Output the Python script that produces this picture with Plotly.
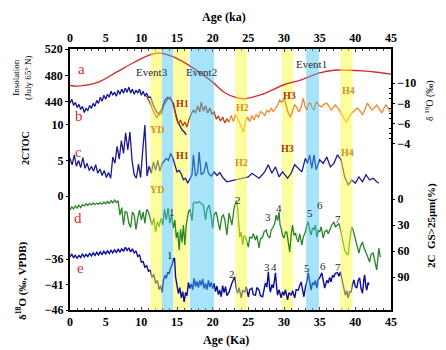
import plotly.graph_objects as go

# ---------------- data ----------------
# a: insolation (W/m2, July 65N)
ins_age = [0, 1, 2, 4, 6.5, 9, 11.2, 12.4, 14.5, 17.3, 20, 21.7, 23.5, 24.5, 26.8, 30, 32.3, 35, 37, 39, 41, 43, 45]
ins_val = [465, 464, 465, 470, 485, 500, 511, 514, 508, 491, 470, 454, 446, 445, 451, 466, 473, 484, 488, 488, 487, 485, 482]

# b: speleothem d18O (per mil), three records
b1_age = [0.00, 0.25, 0.50, 0.75, 1.00, 1.25, 1.50, 1.75, 2.00, 2.25, 2.50, 2.75, 3.00, 3.25, 3.50, 3.75,
          4.00, 4.25, 4.50, 4.75, 5.00, 5.25, 5.50, 5.75, 6.00, 6.25, 6.50, 6.75, 7.00, 7.25, 7.50, 7.75,
          8.00, 8.25, 8.50, 8.75, 9.00, 9.25, 9.50, 9.75, 10.00, 10.25, 10.50, 10.75, 11.00, 11.3, 11.7,
          12.1, 12.5, 12.9, 13.3, 13.7, 14.1, 14.5, 14.8, 15.1, 15.4, 15.7, 16.0, 16.3]
b1_val = [-8.0, -8.4, -7.8, -8.1, -7.6, -7.9, -7.4, -7.7, -7.1, -7.5, -7.3, -7.8, -7.5, -8.0, -7.7, -8.3,
          -8.0, -8.6, -8.2, -8.8, -8.4, -8.9, -8.6, -9.2, -8.8, -9.1, -8.7, -9.3, -8.9, -9.4, -9.0, -9.5,
          -9.1, -9.6, -9.0, -9.4, -8.9, -9.3, -9.0, -9.4, -8.8, -9.2, -8.7, -9.0, -8.6, -8.6, -7.8,
          -7.2, -6.9, -7.5, -8.3, -8.6, -8.4, -8.0, -7.0, -6.2, -5.8, -5.4, -5.2, -4.9]
b2_age = [10.7, 11.0, 11.3, 11.6, 11.9, 12.2, 12.5, 12.8, 13.1, 13.4, 13.7, 14.0, 14.3, 14.6, 14.9, 15.2,
          15.5, 15.8, 16.1, 16.4, 16.7, 17.0, 17.3, 17.6, 17.9, 18.2, 18.4, 18.7, 19.0, 19.3, 19.6, 19.9,
          20.2, 20.5, 20.8, 21.1, 21.4, 21.7, 22.0, 22.3]
b2_val = [-8.72, -8.33, -7.93, -7.34, -6.95, -6.56, -7.15, -6.95, -7.74, -8.13, -8.43, -8.62, -8.23, -7.54,
          -6.56, -5.97, -6.36, -5.77, -6.16, -5.67, -6.46, -6.95, -7.34, -7.05, -7.74, -7.15, -8.13, -7.25,
          -7.74, -7.05, -7.54, -6.95, -7.15, -6.46, -6.75, -6.26, -6.65, -6.06, -6.46, -6.16]
b3_age = [22.3, 22.6, 22.9, 23.2, 23.5, 23.8, 24.1, 24.3, 24.6, 24.9, 25.2, 25.5, 25.8, 26.1, 26.4, 26.7,
          27.0, 27.3, 27.6, 27.9, 28.2, 28.5, 28.8, 29.1, 29.4, 29.7, 30.0, 30.3, 30.6, 30.9, 31.2, 31.5,
          31.8, 32.1, 32.4, 32.7, 33.0, 33.2, 33.5, 33.7, 34.0, 34.2, 34.4, 34.6, 34.9, 35.3, 35.6, 36.0,
          36.3, 36.6, 36.9, 37.2, 37.6, 38.0, 38.3, 38.7, 39.1, 39.5, 39.9, 40.3, 40.7, 41.0, 41.4, 41.7,
          42.0, 42.3, 42.7, 43.0, 43.4, 43.7, 44.0, 44.3, 44.7, 45.0]
b3_val = [-6.16, -6.8, -6.2, -6.9, -6.56, -6.0, -5.5, -5.18, -6.2, -6.65, -6.2, -6.8, -6.36, -6.9, -6.6, -7.2,
          -7.05, -6.8, -7.3, -7.15, -7.5, -7.2, -7.54, -7.8, -8.33, -8.1, -8.52, -7.8, -7.05, -6.65, -7.3, -7.84,
          -7.6, -7.15, -7.6, -8.52, -7.6, -7.34, -8.0, -8.03, -7.5, -7.34, -7.9, -8.13, -7.8, -7.64, -7.9, -8.03,
          -7.7, -7.34, -7.6, -7.84, -7.5, -7.05, -6.6, -6.16, -6.6, -7.05, -7.3, -7.54, -7.2, -6.85, -7.5, -8.03,
          -7.7, -7.34, -7.6, -7.84, -7.4, -7.05, -7.5, -7.84, -7.4, -7.05]

# c: 2CTOC
c_age = [0, 0.3, 0.6, 0.9, 1.2, 1.5, 1.8, 2.1, 2.4, 2.7, 3.0, 3.3, 3.6, 3.9, 4.2, 4.5, 4.8, 5.1, 5.4, 5.7,
         6.0, 6.3, 6.6, 6.9, 7.2, 7.5, 7.8, 8.1, 8.4, 8.7, 9.0, 9.3, 9.6, 9.9, 10.2, 10.5, 10.8, 11.1, 11.4,
         11.7, 12.0, 12.3, 12.6, 12.9, 13.2, 13.5, 13.8, 14.1, 14.4, 14.7, 15.0, 15.3, 15.6, 15.9, 16.2, 16.5,
         16.8, 17.1, 17.3, 17.6, 17.9, 18.1, 18.4, 18.8, 19.1, 19.4, 19.8, 20.2, 20.6, 21.0, 21.5, 22.0, 23.0,
         24.0, 25.0, 25.5, 26.5, 27.3, 27.8, 28.3, 28.8, 29.3, 29.8, 30.5, 31.0, 31.5, 32.0, 32.5, 33.0, 33.3,
         33.6, 33.9, 34.2, 34.5, 35.0, 35.5, 36.0, 36.5, 37.0, 37.5, 38.0, 38.5, 39.0, 39.5, 40.0, 40.5, 41.0,
         41.5, 42.0, 42.5, 43.0, 43.3]
c_val = [5.3, 4.4, 5.8, 4.2, 5.0, 4.0, 5.4, 3.9, 4.6, 3.6, 4.2, 3.5, 4.4, 3.2, 3.8, 2.9, 3.6, 2.6, 3.3, 2.5,
         5.5, 4.6, 7.0, 5.2, 7.8, 6.0, 8.9, 6.5, 9.0, 5.0, 3.0, 2.5, 4.5, 2.6, 6.5, 10.0, 2.8, 4.2, 3.2,
         4.8, 3.6, 5.0, 3.5, 4.6, 4.9, 5.3, 5.0, 6.0, 5.4, 4.3, 3.4, 3.6, 3.1, 2.3, 2.5, 1.8,
         2.4, 3.0, 5.8, 2.8, 3.3, 6.2, 3.0, 3.4, 4.8, 3.2, 2.8, 3.4, 2.9, 3.3, 2.5, 2.0, 2.25,
         2.5, 2.7, 3.2, 2.5, 3.4, 4.4, 3.2, 4.1, 2.7, 3.4, 2.5, 3.2, 4.4, 3.9, 3.4, 5.3, 4.6,
         5.8, 3.9, 5.8, 3.7, 5.1, 4.6, 5.5, 4.1, 4.6, 5.8, 5.1, 2.7, 1.55, 2.25, 1.8, 2.7, 2.0,
         3.0, 2.25, 2.5, 2.0, 1.8]

# d: 2C GS>25um (%)
d_age = [0.00, 0.25, 0.50, 0.75, 1.00, 1.25, 1.50, 1.75, 2.00, 2.25, 2.50, 2.75, 3.00, 3.25, 3.50, 3.75, 4.00,
         4.25, 4.50, 4.75, 5.00, 5.25, 5.50, 5.75, 6.00, 6.25, 6.50, 6.75, 7.00, 7.25, 7.50, 7.75, 8.00, 8.25,
         8.50, 8.75, 9.00, 9.25, 9.50, 9.75, 10.00, 10.25, 10.50, 10.75, 11.00, 11.25, 11.50, 11.75, 12.00,
         12.25, 12.50, 12.75, 13.00, 13.25, 13.50, 13.75, 14.00, 14.25, 14.50, 14.70, 14.90, 15.10, 15.30,
         15.50, 15.70, 15.90, 16.10, 16.30, 16.60, 16.80, 17.10, 17.30, 17.50, 17.80, 18.10, 18.40, 18.70,
         19.00, 19.20, 19.50, 19.80, 20.00, 20.20, 20.50, 20.80, 21.00, 21.30, 21.50, 21.70, 22.00, 22.30,
         22.70, 23.00, 23.30, 23.50, 23.80, 24.00, 24.20, 24.40, 24.60, 24.80, 25.00, 25.20, 25.50, 25.70,
         26.00, 26.20, 26.50, 26.70, 27.00, 27.20, 27.50, 27.70, 28.00, 28.20, 28.50, 28.70, 28.90, 29.10,
         29.30, 29.45, 29.60, 29.80, 30.00, 30.20, 30.40, 30.60, 30.80, 31.00, 31.20, 31.40, 31.60, 31.80,
         32.00, 32.20, 32.50, 32.70, 33.00, 33.20, 33.40, 33.60, 33.80, 34.00, 34.20, 34.40, 34.60, 34.80,
         35.00, 35.20, 35.50, 35.70, 36.00, 36.20, 36.50, 36.70, 37.00, 37.20, 37.50, 37.70, 38.00, 38.20,
         38.50, 38.70, 39.00, 39.20, 39.50, 39.70, 40.00, 40.20, 40.50, 40.70, 41.00, 41.20, 41.50, 41.70,
         42.00, 42.20, 42.50, 42.70, 43.00, 43.20, 43.30, 43.50]
d_val = [12.7, 9.0, 11.5, 8.0, 10.5, 7.0, 9.8, 6.5, 8.0, 5.5, 7.5, 5.0, 6.8, 4.6, 6.5, 5.0, 6.0,
         4.2, 6.2, 3.5, 5.5, 3.0, 5.2, 1.8, 4.5, 1.2, 4.0, 2.0, 18.5, 10.0, 30.0, 14.0, 16.0, 28.0,
         33.0, 15.0, 18.5, 35.0, 22.0, 12.7, 24.0, 15.0, 28.0, 12.0, 15.0, 24.0, 30.0, 21.9, 38.1,
         26.0, 32.0, 22.0, 30.0, 12.0, 24.0, 10.4, 28.0, 18.0, 33.5, 24.2, 45.0, 38.0, 58.9,
         35.0, 50.0, 30.0, 53.1, 30.0, 15.0, 12.0, 25.0, 5.0, 3.5, 4.6, 3.0, 5.5, 6.9,
         24.2, 12.0, 6.9, 20.0, 33.5, 18.0, 15.0, 30.0, 35.8, 20.0, 18.5, 24.2, 41.5, 16.2,
         30.0, 10.4, 1.2, 10.4, 43.9, 38.0, 53.1, 42.0, 43.9, 50.0, 55.4, 44.0, 45.0, 40.0,
         47.3, 42.0, 56.5, 46.0, 43.9, 38.0, 35.8, 42.0, 45.0, 36.0, 32.3, 28.0, 18.5, 25.0,
         15.0, 30.0, 33.5, 42.0, 45.0, 38.0, 38.1, 50.0, 61.2, 42.0, 30.0, 42.0, 39.2, 46.0,
         49.6, 40.0, 53.1, 44.0, 38.1, 30.0, 26.5, 36.0, 41.5, 33.0, 35.8, 30.0, 43.9, 36.0,
         38.1, 32.0, 45.0, 38.0, 35.8, 40.0, 33.5, 30.0, 26.5, 32.0, 30.0, 28.0, 38.1, 45.0,
         58.9, 62.0, 64.6, 48.0, 32.3, 36.0, 45.0, 52.0, 62.3, 55.0, 49.6, 56.0, 61.2, 66.0,
         72.7, 64.0, 62.3, 70.0, 81.9, 65.0, 56.5, 66.9]

# e: d18O (per mil, VPDB)
e_age = [0.00, 0.25, 0.50, 0.75, 1.00, 1.25, 1.50, 1.75, 2.00, 2.25, 2.50, 2.75, 3.00, 3.25, 3.50, 3.75, 4.00,
         4.25, 4.50, 4.75, 5.00, 5.25, 5.50, 5.75, 6.00, 6.25, 6.50, 6.75, 7.00, 7.25, 7.50, 7.75, 8.00, 8.25,
         8.50, 8.75, 9.00, 9.25, 9.50, 9.75, 10.00, 10.25, 10.50, 10.75, 11.00, 11.25, 11.50, 11.75, 12.00,
         12.25, 12.50, 12.70, 12.90, 13.1, 13.3, 13.5, 13.7, 13.9, 14.1, 14.3, 14.5, 14.65, 14.8, 15.0, 15.2,
         15.4, 15.6, 15.8, 16.0, 16.2, 16.4, 16.6, 16.8, 17.0, 17.2, 17.4, 17.6, 17.8, 18.0, 18.2, 18.4, 18.6,
         18.8, 19.0, 19.2, 19.4, 19.6, 19.8, 20.0, 20.2, 20.4, 20.6, 20.8, 21.0, 21.2, 21.4, 21.6, 21.8, 22.0,
         22.3, 22.7, 23.1, 23.3, 23.5, 23.7, 24.0, 24.2, 24.5, 24.7, 25.0, 25.2, 25.5, 25.7, 26.0, 26.2, 26.5,
         26.7, 27.0, 27.2, 27.4, 27.6, 27.8, 28.0, 28.1, 28.3, 28.5, 28.7, 28.8, 29.0, 29.1, 29.3, 29.6, 29.8,
         30.0, 30.2, 30.5, 30.7, 31.0, 31.2, 31.5, 31.7, 32.0, 32.2, 32.4, 32.6, 32.8, 33.0, 33.2, 33.4, 33.6,
         33.8, 34.0, 34.2, 34.4, 34.6, 34.8, 35.0, 35.3, 35.5, 35.7, 36.0, 36.2, 36.4, 36.6, 36.8, 37.0, 37.2,
         37.5, 37.7, 37.9, 38.2, 38.4, 38.6, 38.8, 39.0, 39.2, 39.4, 39.6, 39.8, 40.0, 40.2, 40.4, 40.6, 40.8,
         41.0, 41.2, 41.3, 41.5, 41.6, 41.8, 41.9]
e_val = [-35.6, -35.0, -35.8, -35.2, -35.9, -35.3, -35.7, -35.0, -35.6, -35.1, -35.5, -34.9, -35.4, -34.8, -35.3,
         -34.7, -35.2, -34.6, -35.1, -34.5, -35.0, -34.4, -34.9, -34.3, -34.8, -34.2, -34.7, -34.1, -34.6, -34.0,
         -34.5, -33.7, -34.3, -33.8, -34.6, -34.0, -34.8, -34.4, -35.5, -35.2, -36.6, -36.5, -37.6, -37.3, -38.4,
         -38.2, -39.6, -39.0, -40.8, -40.2, -42.0, -41.2, -42.6, -40.2, -39.2, -39.8, -38.6, -38.9, -37.7, -37.2,
         -36.0, -35.8, -39.5, -41.2, -42.8, -41.6, -43.6, -42.4, -44.4, -42.6, -43.2, -40.6, -41.8, -40.9, -42.0,
         -39.8, -41.4, -40.4, -41.6, -40.2, -41.2, -39.9, -41.8, -40.8, -42.0, -40.2, -41.5, -40.6, -41.8, -40.8,
         -42.4, -41.3, -43.0, -42.1, -43.4, -41.2, -42.6, -41.4, -43.2, -42.5, -40.7, -39.5, -41.8, -42.7, -41.6,
         -43.6, -42.2, -42.5, -41.4, -43.4, -42.0, -41.7, -43.0, -43.1, -41.6, -42.1, -43.2, -43.4, -41.8, -40.7,
         -41.5, -38.5, -41.8, -42.5, -41.0, -41.7, -39.8, -38.7, -42.0, -43.1, -42.0, -43.6, -42.4, -43.1, -42.0,
         -44.0, -42.6, -43.1, -42.2, -43.6, -42.0, -42.1, -41.2, -40.5, -42.0, -43.4, -41.5, -40.5, -38.7, -41.0,
         -42.1, -40.6, -41.1, -40.2, -41.7, -40.0, -39.7, -38.7, -40.6, -41.7, -40.2, -40.7, -39.6, -40.5, -39.2,
         -39.5, -38.8, -38.7, -39.4, -38.5, -40.5, -42.0, -43.1, -42.2, -43.6, -42.4, -42.5, -41.0, -40.1, -41.4,
         -41.7, -40.2, -39.7, -41.8, -42.7, -40.0, -39.1, -41.5, -42.1, -40.6, -41.1]

# shaded intervals (ka): start, end, kind
band_start = [11.3, 12.9, 14.5, 16.8, 23.2, 29.7, 33.1, 37.9]
band_end = [12.9, 14.45, 16.6, 20.2, 24.8, 31.3, 34.9, 39.6]
band_kind = ["Y", "B", "Yb", "B", "Y", "Yb", "B", "Y"]

x_ticks = [0, 5, 10, 15, 20, 25, 30, 35, 40, 45]
ins_ticks = [440, 480, 520]
b_ticks = [-10, -8, -6, -4]
c_ticks = [0, 5, 10]
d_ticks = [0, 30, 60, 90]
e_ticks = [-46, -41, -36]

# ---------------- layout geometry ----------------
W, H = 446, 350
L, R, T, B = 70, 55, 49, 40
PW, PH = W - L - R, H - T - B


def pp(px, py):
    return (px - L) / PW, (H - B - py) / PH


fig = go.Figure()

fig.add_trace(go.Scatter(x=ins_age, y=ins_val, mode="lines", yaxis="y",
                         line=dict(color="#d42c2c", width=1.4, shape="spline")))
fig.add_trace(go.Scatter(x=b1_age, y=b1_val, mode="lines", yaxis="y2",
                         line=dict(color="#14148c", width=1.3)))
fig.add_trace(go.Scatter(x=b2_age, y=b2_val, mode="lines", yaxis="y2",
                         line=dict(color="#b5440f", width=1.3)))
fig.add_trace(go.Scatter(x=b3_age, y=b3_val, mode="lines", yaxis="y2",
                         line=dict(color="#f2892a", width=1.3)))
fig.add_trace(go.Scatter(x=c_age, y=c_val, mode="lines", yaxis="y3",
                         line=dict(color="#1a1a8c", width=1.3)))
fig.add_trace(go.Scatter(x=d_age, y=d_val, mode="lines", yaxis="y4",
                         line=dict(color="#2a842a", width=1.3)))
fig.add_trace(go.Scatter(x=e_age, y=e_val, mode="lines", yaxis="y5",
                         line=dict(color="#0c0c9c", width=1.4)))
fig.add_trace(go.Scatter(x=[0, 45], y=[None, None], xaxis="x2", yaxis="y", mode="lines",
                         hoverinfo="skip"))

shapes = []
for s, e, k in zip(band_start, band_end, band_kind):
    if k == "Y":
        shapes.append(dict(type="rect", xref="x", yref="paper", x0=s, x1=e, y0=0, y1=1,
                           fillcolor="rgb(252,252,62)", opacity=0.5, line=dict(width=0), layer="above"))
    elif k == "Yb":
        shapes.append(dict(type="rect", xref="x", yref="paper", x0=s, x1=e, y0=0, y1=1,
                           fillcolor="rgb(253,253,160)", line=dict(width=0), layer="below"))
    else:
        shapes.append(dict(type="rect", xref="x", yref="paper", x0=s, x1=e, y0=0, y1=1,
                           fillcolor="rgb(60,195,242)", opacity=0.45, line=dict(width=0), layer="above"))

tickfont = dict(family="Liberation Serif", size=12, color="black", weight="bold")
ann = []


def add_text(px, py, text, size=11, color="black", family="Liberation Serif", weight="normal", angle=0):
    x, y = pp(px, py)
    ann.append(dict(x=x, y=y, xref="paper", yref="paper", text=text, showarrow=False,
                    textangle=angle, xanchor="center", yanchor="middle",
                    font=dict(size=size, color=color, family=family, weight=weight)))


red = "#d8302f"
for (px, py, t) in [(81, 69, "a"), (79, 116, "b"), (78, 152, "c"), (78, 218, "d"), (80, 268, "e")]:
    add_text(px, py, t, size=15, color=red)

for (px, py, t) in [(152, 72, "Event3"), (201, 72, "Event2"), (311, 64, "Event1")]:
    add_text(px, py, t, size=11, color="#2b2b3a")

dark = "#a8340f"
gold = "#cf9226"
add_text(182, 103, "H1", 10, dark, weight="bold")
add_text(157, 129, "YD", 10, gold, weight="bold")
add_text(243, 107, "H2", 10, gold, weight="bold")
add_text(289, 95, "H3", 10, dark, weight="bold")
add_text(348, 90, "H4", 10, gold, weight="bold")
add_text(157, 189, "YD", 10, gold, weight="bold")
add_text(182, 155, "H1", 10, dark, weight="bold")
add_text(242, 162, "H2", 10, gold, weight="bold")
add_text(287, 148, "H3", 10, dark, weight="bold")
add_text(347, 152, "H4", 10, gold, weight="bold")

num = "#2a2a2a"
for (px, py, t) in [(172, 212, "1"), (238, 200, "2"), (268, 217, "3"), (279, 208, "4"),
                    (310, 213, "5"), (320, 205, "6"), (338, 219, "7"),
                    (170, 255, "1"), (232, 274, "2"), (267, 267, "3"), (274, 267, "4"),
                    (307, 268, "5"), (323, 266, "6"), (338, 267, "7")]:
    add_text(px, py, t, size=11, color=num)

add_text(224, 17, "Age (ka)", 12, "black", weight="bold")
add_text(226, 340, "Age (Ka)", 12, "black", weight="bold")
add_text(22, 78, "Insolation<br>(July 65° N)", 9, "black", angle=-90)
add_text(25, 148, "2CTOC", 10, "black", weight="bold", angle=-90)
add_text(21, 281, "δ<sup>18</sup>O (‰, VPDB)", 11, "black", weight="bold", angle=-90)
add_text(429, 101, "δ <sup>18</sup>O (‰)", 10, "black", angle=-90)
add_text(431, 226, "2C  GS>25μm(%)", 11, "black", weight="bold", angle=-90)

xcommon = dict(range=[0, 45], tickvals=x_ticks, ticks="inside", ticklen=3, tickwidth=1,
               showline=True, linecolor="black", linewidth=1.5, showgrid=False, zeroline=False,
               tickfont=tickfont, minor=dict(ticks="inside", dtick=1, ticklen=2.5, tickcolor="#444"))
ycommon = dict(showgrid=False, zeroline=False, tickfont=tickfont, ticks="outside", ticklen=3,
               tickcolor="black")

fig.update_layout(
    width=W, height=H, margin=dict(l=L, r=R, t=T, b=B), showlegend=False,
    paper_bgcolor="white", plot_bgcolor="white",
    xaxis=dict(**xcommon, side="bottom", anchor="y"),
    xaxis2=dict(**xcommon, side="top", overlaying="x", anchor="y"),
    yaxis=dict(**ycommon, range=[126, 520], tickvals=ins_ticks, side="left", showline=True,
               linecolor="black", linewidth=1.5, mirror=True),
    yaxis2=dict(**ycommon, range=[12.34, -13.35], tickvals=b_ticks, side="right", overlaying="y",
                minor=dict(tickvals=[-9.5, -9, -8.5, -7.5, -7, -6.5, -5.5, -5, -4.5], ticks="inside",
                           ticklen=2)),
    yaxis3=dict(**ycommon, range=[-16.05, 20.7], tickvals=c_ticks, side="left", overlaying="y"),
    yaxis4=dict(**ycommon, range=[128, -173], tickvals=d_ticks, side="right", overlaying="y"),
    yaxis5=dict(**ycommon, range=[-46, 5.2], tickvals=e_ticks, side="left", overlaying="y"),
    shapes=shapes, annotations=ann,
)

fig.write_html("out.html")
